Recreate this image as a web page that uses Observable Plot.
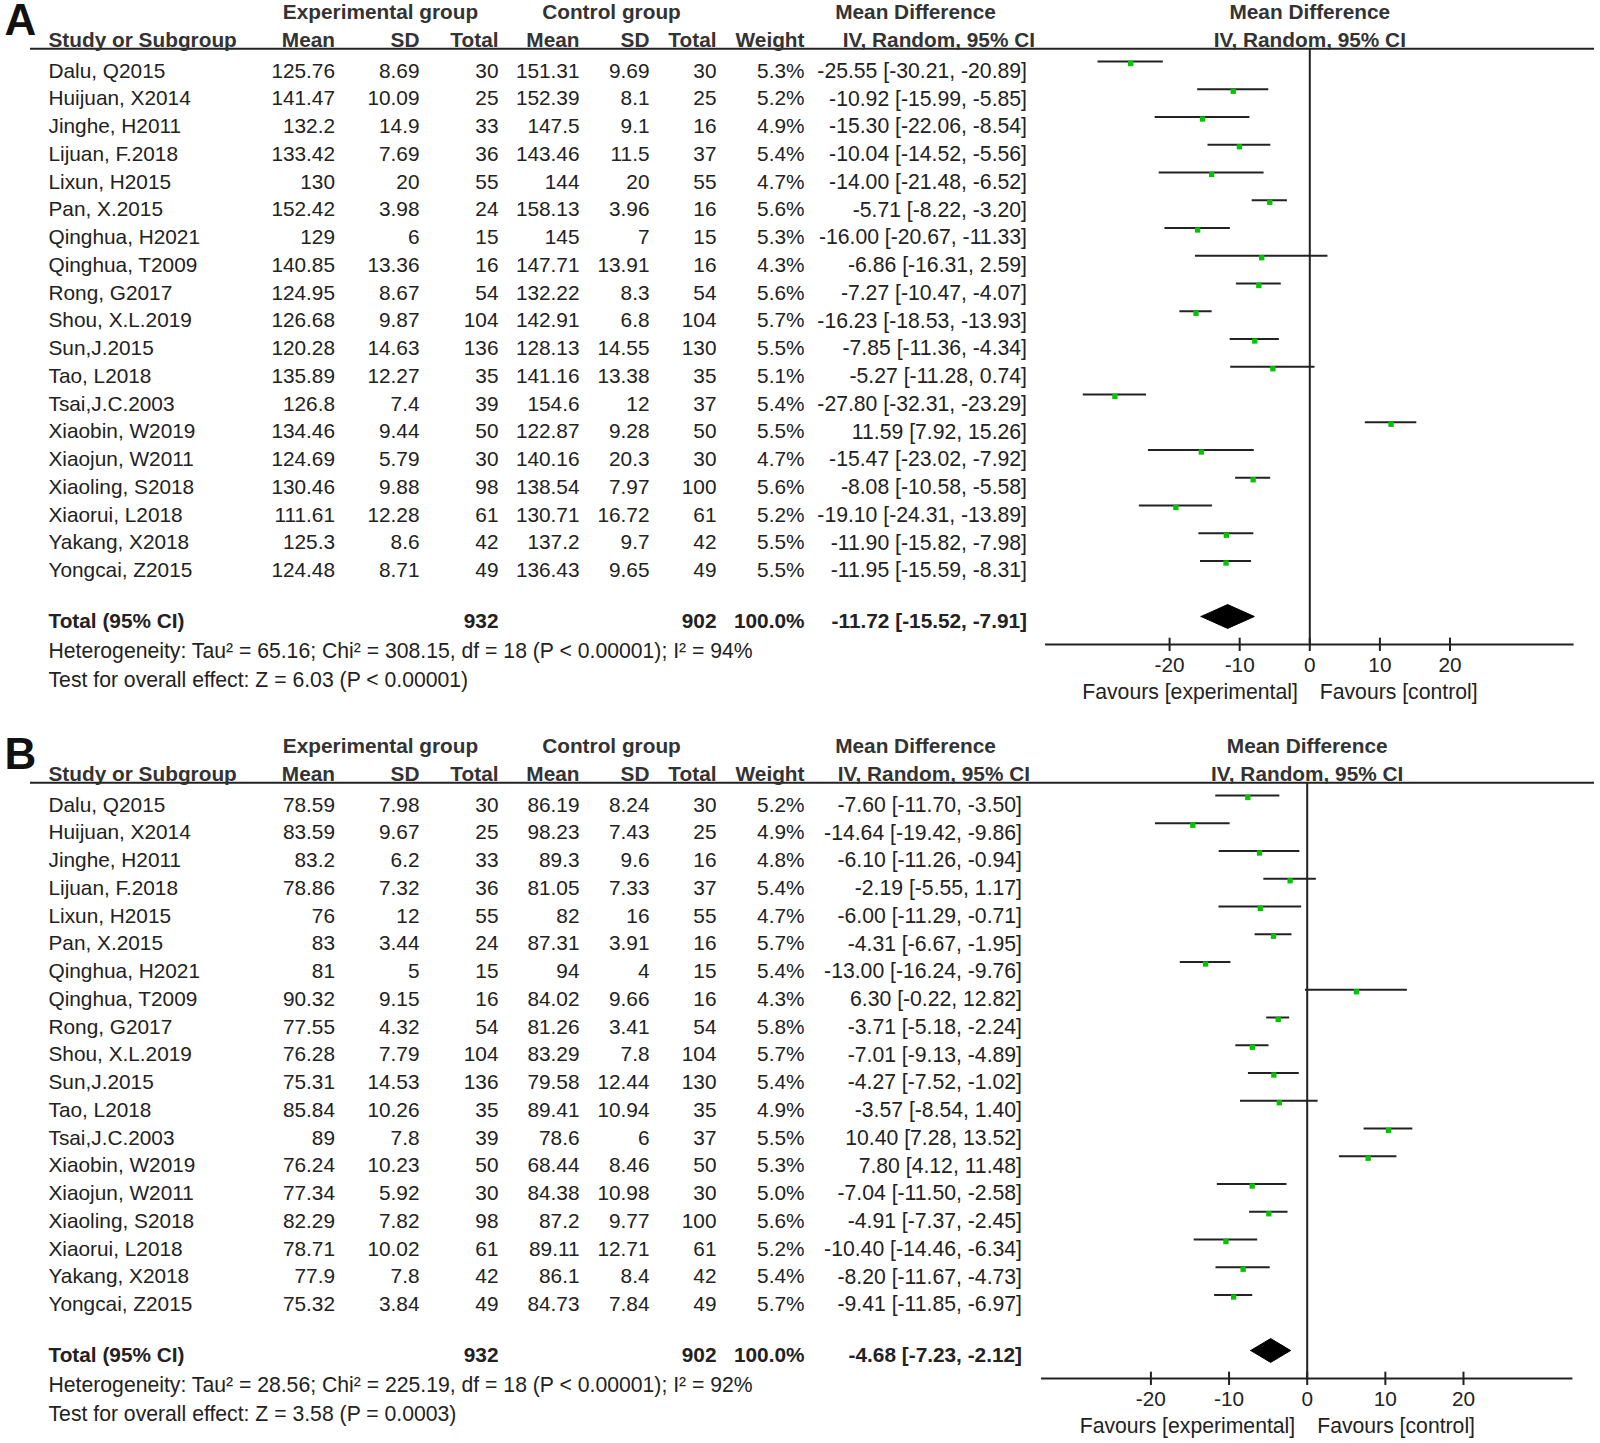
<!DOCTYPE html>
<html>
<head>
<meta charset="utf-8">
<script src="https://cdn.jsdelivr.net/npm/d3@7"></script>
<script src="https://cdn.jsdelivr.net/npm/@observablehq/plot@0.6"></script>
<style>
  html, body { margin: 0; padding: 0; background: #fff; }
  #fig { width: 1600px; position: relative; }
  .panel { position: relative; width: 1600px; }
  .panel svg { position: absolute; top: 0; max-width: none !important; }
</style>
</head>
<body>
<div id="fig"></div>
<script>
// ---------------- DATA ----------------
const studies = ["Dalu, Q2015","Huijuan, X2014","Jinghe, H2011","Lijuan, F.2018","Lixun, H2015","Pan, X.2015","Qinghua, H2021","Qinghua, T2009","Rong, G2017","Shou, X.L.2019","Sun,J.2015","Tao, L2018","Tsai,J.C.2003","Xiaobin, W2019","Xiaojun, W2011","Xiaoling, S2018","Xiaorui, L2018","Yakang, X2018","Yongcai, Z2015"];
const expTotal  = [30,25,33,36,55,24,15,16,54,104,136,35,39,50,30,98,61,42,49];
const ctrlTotal = [30,25,16,37,55,16,15,16,54,104,130,35,37,50,30,100,61,42,49];
const ticks = [-20, -10, 0, 10, 20];

// Panel A
const expMeanA  = [125.76,141.47,132.2,133.42,130,152.42,129,140.85,124.95,126.68,120.28,135.89,126.8,134.46,124.69,130.46,111.61,125.3,124.48];
const expSDA    = [8.69,10.09,14.9,7.69,20,3.98,6,13.36,8.67,9.87,14.63,12.27,7.4,9.44,5.79,9.88,12.28,8.6,8.71];
const ctrlMeanA = [151.31,152.39,147.5,143.46,144,158.13,145,147.71,132.22,142.91,128.13,141.16,154.6,122.87,140.16,138.54,130.71,137.2,136.43];
const ctrlSDA   = [9.69,8.1,9.1,11.5,20,3.96,7,13.91,8.3,6.8,14.55,13.38,12,9.28,20.3,7.97,16.72,9.7,9.65];
const weightA   = [5.3,5.2,4.9,5.4,4.7,5.6,5.3,4.3,5.6,5.7,5.5,5.1,5.4,5.5,4.7,5.6,5.2,5.5,5.5];
const mdA = [-25.55,-10.92,-15.30,-10.04,-14.00,-5.71,-16.00,-6.86,-7.27,-16.23,-7.85,-5.27,-27.80,11.59,-15.47,-8.08,-19.10,-11.90,-11.95];
const loA = [-30.21,-15.99,-22.06,-14.52,-21.48,-8.22,-20.67,-16.31,-10.47,-18.53,-11.36,-11.28,-32.31,7.92,-23.02,-10.58,-24.31,-15.82,-15.59];
const hiA = [-20.89,-5.85,-8.54,-5.56,-6.52,-3.20,-11.33,2.59,-4.07,-13.93,-4.34,0.74,-23.29,15.26,-7.92,-5.58,-13.89,-7.98,-8.31];
const pooledA = [-11.72, -15.52, -7.91];
const totalWeightA = "100.0%";
const hetA  = "Heterogeneity: Tau² = 65.16; Chi² = 308.15, df = 18 (P < 0.00001); I² = 94%";
const testA = "Test for overall effect: Z = 6.03 (P < 0.00001)";

// Panel B
const expMeanB  = [78.59,83.59,83.2,78.86,76,83,81,90.32,77.55,76.28,75.31,85.84,89,76.24,77.34,82.29,78.71,77.9,75.32];
const expSDB    = [7.98,9.67,6.2,7.32,12,3.44,5,9.15,4.32,7.79,14.53,10.26,7.8,10.23,5.92,7.82,10.02,7.8,3.84];
const ctrlMeanB = [86.19,98.23,89.3,81.05,82,87.31,94,84.02,81.26,83.29,79.58,89.41,78.6,68.44,84.38,87.2,89.11,86.1,84.73];
const ctrlSDB   = [8.24,7.43,9.6,7.33,16,3.91,4,9.66,3.41,7.8,12.44,10.94,6,8.46,10.98,9.77,12.71,8.4,7.84];
const weightB   = [5.2,4.9,4.8,5.4,4.7,5.7,5.4,4.3,5.8,5.7,5.4,4.9,5.5,5.3,5.0,5.6,5.2,5.4,5.7];
const mdB = [-7.60,-14.64,-6.10,-2.19,-6.00,-4.31,-13.00,6.30,-3.71,-7.01,-4.27,-3.57,10.40,7.80,-7.04,-4.91,-10.40,-8.20,-9.41];
const loB = [-11.70,-19.42,-11.26,-5.55,-11.29,-6.67,-16.24,-0.22,-5.18,-9.13,-7.52,-8.54,7.28,4.12,-11.50,-7.37,-14.46,-11.67,-11.85];
const hiB = [-3.50,-9.86,-0.94,1.17,-0.71,-1.95,-9.76,12.82,-2.24,-4.89,-1.02,1.40,13.52,11.48,-2.58,-2.45,-6.34,-4.73,-6.97];
const pooledB = [-4.68, -7.23, -2.12];
const totalWeightB = "100.0%";
const hetB  = "Heterogeneity: Tau² = 28.56; Chi² = 225.19, df = 18 (P < 0.00001); I² = 92%";
const testB = "Test for overall effect: Z = 3.58 (P = 0.0003)";

// ---------------- LAYOUT / STYLE ----------------
const FONT = "'Liberation Sans', Arial, Helvetica, sans-serif";
const INK = "#222";
const FS = 20.8;
const FS_WIDE = 21.2;
const COL = {label: 4, study: 48, expGroup: 380, expMean: 334.5, expSD: 419, expTotal: 498,
             ctrlGroup: 611, ctrlMean: 579, ctrlSD: 649, ctrlTotal: 716, weight: 804, ciHead: 915,
             lineStart: 30, lineEnd: 1594};
const ROW = {label: -1.46, head1: -2.1, head2: -1.1, headLine: -0.46, total: 19.84, het: 20.92, test: 21.95,
             axis: 21.01, tickTop: 20.78, tickBottom: 21.26, tickLabel: 21.77, favours: 22.74, diamondHalf: 0.43, pooled: 20};
const TEXT_DY = 9.5;

function panel(cfg) {
  const rows = studies.map((name, i) => ({
    i, name,
    em: cfg.expMean[i], esd: cfg.expSD[i], et: expTotal[i],
    cm: cfg.ctrlMean[i], csd: cfg.ctrlSD[i], ct: ctrlTotal[i],
    w: cfg.weight[i], md: cfg.md[i], lo: cfg.lo[i], hi: cfg.hi[i]
  }));
  const f2 = v => v.toFixed(2);
  const ci = (m, l, h) => `${f2(m)} [${f2(l)}, ${f2(h)}]`;
  const yScale = {domain: [0, 20], range: [61, 616], axis: null};
  const base = {fontFamily: FONT, fontSize: FS, fill: INK, dy: TEXT_DY};

  const one = (txt, x, y, anchor, bold, extra = {}) =>
    Plot.text([txt], {...base, x: () => x, y: () => y, text: d => d, textAnchor: anchor,
                      fontWeight: bold ? "bold" : "normal", ...extra});
  const column = (key, fmt, x, anchor, extra = {}) =>
    Plot.text(rows, {...base, x: () => x, y: "i", text: d => fmt(d[key]), textAnchor: anchor, ...extra});

  const headers2 = [["Study or Subgroup", COL.study, "start"], ["Mean", COL.expMean, "end"], ["SD", COL.expSD, "end"],
                    ["Total", COL.expTotal, "end"], ["Mean", COL.ctrlMean, "end"], ["SD", COL.ctrlSD, "end"],
                    ["Total", COL.ctrlTotal, "end"], ["Weight", COL.weight, "end"], ["IV, Random, 95% CI", cfg.ciRight + 8, "end"]];
  const headers1 = [["Experimental group", COL.expGroup], ["Control group", COL.ctrlGroup], ["Mean Difference", COL.ciHead]];

  const table = Plot.plot({
    width: 1600, height: cfg.height, margin: 0,
    x: {domain: [0, 1600], axis: null},
    y: yScale,
    style: {background: "white", overflow: "visible"},
    marks: [
      Plot.ruleY([ROW.headLine], {y: d => d, x1: () => COL.lineStart, x2: () => COL.lineEnd, stroke: INK, strokeWidth: 2}),
      one(cfg.label, COL.label, ROW.label, "start", true, {fontSize: 44, dy: 0, fill: "#111"}),
      ...headers1.map(([t, x]) => one(t, x, ROW.head1, "middle", true, {fill: "#333"})),
      ...headers2.map(([t, x, a]) => one(t, x, ROW.head2, a, true, {fill: "#333"})),
      column("name", String, COL.study, "start"),
      column("em", String, COL.expMean, "end"),
      column("esd", String, COL.expSD, "end"),
      column("et", String, COL.expTotal, "end"),
      column("cm", String, COL.ctrlMean, "end"),
      column("csd", String, COL.ctrlSD, "end"),
      column("ct", String, COL.ctrlTotal, "end"),
      column("w", v => v.toFixed(1) + "%", COL.weight, "end"),
      Plot.text(rows, {...base, fontSize: FS_WIDE, x: () => cfg.ciRight, y: "i", text: d => ci(d.md, d.lo, d.hi), textAnchor: "end"}),
      one("Total (95% CI)", COL.study, ROW.total, "start", true),
      one(String(d3.sum(expTotal)), COL.expTotal, ROW.total, "end", true),
      one(String(d3.sum(ctrlTotal)), COL.ctrlTotal, ROW.total, "end", true),
      one(cfg.totalWeight, COL.weight, ROW.total, "end", true),
      one(ci(...cfg.pooled), cfg.ciRight, ROW.total, "end", true),
      one(cfg.het, COL.study, ROW.het, "start", false, {fontSize: FS_WIDE}),
      one(cfg.test, COL.study, ROW.test, "start", false, {fontSize: FS_WIDE})
    ]
  });

  const [pm, pl, ph] = cfg.pooled;
  const diamond = [
    {x: pl, y: ROW.pooled}, {x: pm, y: ROW.pooled - ROW.diamondHalf},
    {x: ph, y: ROW.pooled}, {x: pm, y: ROW.pooled + ROW.diamondHalf}, {x: pl, y: ROW.pooled}
  ];
  const fbase = {fontFamily: FONT, fontSize: FS, fill: INK};

  const forest = Plot.plot({
    width: 580, height: cfg.height,
    marginLeft: cfg.mL, marginRight: cfg.mR, marginTop: 0, marginBottom: 0,
    x: {domain: cfg.xDomain, axis: null},
    y: yScale,
    style: {background: "transparent", overflow: "visible"},
    marks: [
      Plot.ruleX([0], {x: d => d, y1: () => ROW.headLine, y2: () => ROW.axis, stroke: INK, strokeWidth: 2}),
      Plot.ruleY(rows, {y: "i", x1: "lo", x2: "hi", stroke: INK, strokeWidth: 2}),
      Plot.dot(rows, {x: "md", y: "i", symbol: "square", r: 3, fill: "#00c400", stroke: "none", dy: 2}),
      Plot.line(diamond, {x: "x", y: "y", fill: "#000", stroke: "#000", strokeWidth: 1}),
      Plot.ruleY([ROW.axis], {y: d => d, x1: () => cfg.xDomain[0], x2: () => cfg.xDomain[1], stroke: INK, strokeWidth: 2}),
      Plot.ruleX(ticks, {x: d => d, y1: () => ROW.tickTop, y2: () => ROW.tickBottom, stroke: INK, strokeWidth: 2}),
      Plot.text(ticks, {...fbase, x: d => d, y: () => ROW.tickLabel, text: d => String(d), textAnchor: "middle"}),
      Plot.text(["Favours [experimental]"], {...fbase, fontSize: FS_WIDE, x: () => 0, y: () => ROW.favours, text: d => d, textAnchor: "end", dx: -12}),
      Plot.text(["Favours [control]"], {...fbase, fontSize: FS_WIDE, x: () => 0, y: () => ROW.favours, text: d => d, textAnchor: "start", dx: 10}),
      Plot.text(["Mean Difference"], {...fbase, x: () => 0, y: () => ROW.head1, dy: TEXT_DY, text: d => d, textAnchor: "middle", fontWeight: "bold", fill: "#333"}),
      Plot.text(["IV, Random, 95% CI"], {...fbase, x: () => 0, y: () => ROW.head2, dy: TEXT_DY, text: d => d, textAnchor: "middle", fontWeight: "bold", fill: "#333"})
    ]
  });

  const div = document.createElement("div");
  div.className = "panel";
  div.style.height = cfg.height + "px";
  table.style.left = "0px";
  forest.style.left = "1020px";
  div.appendChild(table);
  div.appendChild(forest);
  return div;
}

const fig = document.getElementById("fig");
fig.appendChild(panel({
  label: "A", height: 734,
  expMean: expMeanA, expSD: expSDA, ctrlMean: ctrlMeanA, ctrlSD: ctrlSDA, weight: weightA,
  md: mdA, lo: loA, hi: hiA, pooled: pooledA, totalWeight: totalWeightA, het: hetA, test: testA,
  ciRight: 1026.5,
  xDomain: [-37.7, 37.7], mL: 25, mR: 26.4
}));
fig.appendChild(panel({
  label: "B", height: 709,
  expMean: expMeanB, expSD: expSDB, ctrlMean: ctrlMeanB, ctrlSD: ctrlSDB, weight: weightB,
  md: mdB, lo: loB, hi: hiB, pooled: pooledB, totalWeight: totalWeightB, het: hetB, test: testB,
  ciRight: 1021.5,
  xDomain: [-34.0, 34.0], mL: 21, mR: 27.6
}));
</script>
</body>
</html>
